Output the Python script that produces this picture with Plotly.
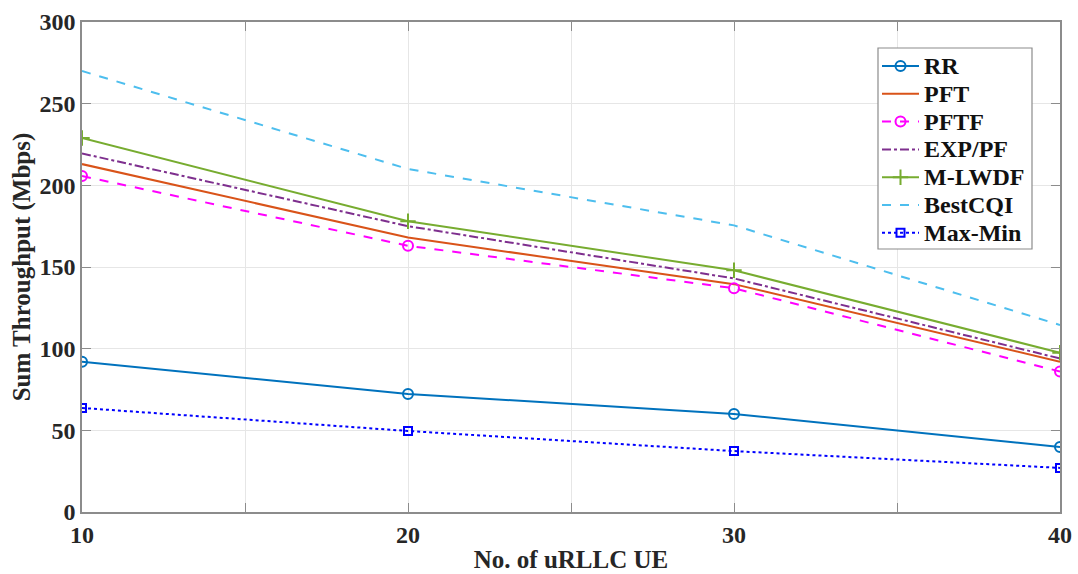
import plotly.graph_objects as go

ue_counts = [10, 20, 30, 40]

rr = [92, 72.3, 60, 39.8]
pft = [213, 168, 139.5, 92]
pftf = [205.7, 163, 137, 86]
exp_pf = [219.5, 175, 143, 94]
m_lwdf = [229, 178, 148, 97.5]
best_cqi = [270, 210, 175.5, 114.5]
max_min = [63.7, 49.6, 37.3, 27]

x_ticks = [10, 15, 20, 25, 30, 35, 40]
x_tick_text = ["10", "", "20", "", "30", "", "40"]
y_ticks = [0, 50, 100, 150, 200, 250, 300]

FONT = "Liberation Serif"
INK = "#262626"
AXIS_GRAY = "#8c8c8c"

series = [
    ("RR", rr, "#0072BD", "solid", "circle-open", 10),
    ("PFT", pft, "#D95319", "solid", None, 0),
    ("PFTF", pftf, "#FF00FF", "dash", "circle-open", 10),
    ("EXP/PF", exp_pf, "#7E2F8E", "dashdot", None, 0),
    ("M-LWDF", m_lwdf, "#77AC30", "solid", "cross-thin-open", 11),
    ("BestCQI", best_cqi, "#4DBEEE", "dash", None, 0),
    ("Max-Min", max_min, "#0000FF", "dot", "square-open", 8),
]

W, H = 1078, 574
M_L, M_R, M_T, M_B = 82, 18, 22, 62
PW, PH = W - M_L - M_R, H - M_T - M_B
X_RANGE = [10, 40]
Y_RANGE = [0, 300]

fig = go.Figure()
for name, vals, color, dash, symbol, size in series:
    kw = {}
    if symbol:
        kw["marker"] = dict(symbol=symbol, size=size, color=color,
                            line=dict(color=color, width=2))
    fig.add_trace(go.Scatter(
        x=ue_counts, y=vals, name=name,
        mode="lines+markers" if symbol else "lines",
        line=dict(color=color, width=2, dash=dash),
        showlegend=False, **kw))

# Legend drawn on an overlay axis whose units are pixels inside the plot area
box_x0, box_x1 = 878 - M_L, 1032 - M_L
box_top, box_bot = H - M_B - 48, H - M_B - 249
row_step = 27.8
first_row = H - M_B - 66
sample_x0, sample_x1 = 882 - M_L, 919 - M_L
text_x = 922 - M_L


def px_to_x(px):
    return X_RANGE[0] + px / PW * (X_RANGE[1] - X_RANGE[0])


def px_to_y(py):
    return Y_RANGE[0] + py / PH * (Y_RANGE[1] - Y_RANGE[0])


# white legend panel sits above the grid but below the curves
fig.add_shape(type="rect", xref="x", yref="y",
              x0=px_to_x(box_x0), x1=px_to_x(box_x1),
              y0=px_to_y(box_bot), y1=px_to_y(box_top),
              line=dict(color=AXIS_GRAY, width=1.2), fillcolor="white", layer="between")

for i, (name, vals, color, dash, symbol, size) in enumerate(series):
    yy = first_row - i * row_step
    fig.add_trace(go.Scatter(
        x=[sample_x0, sample_x1], y=[yy, yy], mode="lines",
        line=dict(color=color, width=2, dash=dash),
        xaxis="x2", yaxis="y2", showlegend=False, hoverinfo="skip"))
    if symbol:
        fig.add_trace(go.Scatter(
            x=[(sample_x0 + sample_x1) / 2], y=[yy], mode="markers",
            marker=dict(symbol=symbol, size=size, color=color,
                        line=dict(color=color, width=2)),
            xaxis="x2", yaxis="y2", showlegend=False, hoverinfo="skip"))
    fig.add_annotation(x=text_x, y=yy, xref="x2", yref="y2", text=f"<b>{name}</b>",
                       showarrow=False, xanchor="left", yanchor="middle",
                       font=dict(family=FONT, size=24, color="#111111"))

axis_common = dict(
    showline=True, linecolor=AXIS_GRAY, linewidth=1.5, mirror="ticks",
    ticks="inside", ticklen=9, tickcolor=AXIS_GRAY,
    showgrid=True, gridcolor="#e6e6e6", gridwidth=1, zeroline=False,
    automargin=False,
    tickfont=dict(family=FONT, size=24, color=INK),
)

fig.update_layout(
    width=W, height=H,
    margin=dict(l=M_L, r=M_R, t=M_T, b=M_B),
    paper_bgcolor="white", plot_bgcolor="white",
    font=dict(family=FONT, color=INK),
    showlegend=False,
    xaxis=dict(
        range=X_RANGE, tickvals=x_ticks,
        ticktext=[f"<b>{t}</b>" if t else "" for t in x_tick_text],
        title=dict(text="<b>No. of uRLLC UE</b>", font=dict(family=FONT, size=25, color=INK), standoff=4),
        **axis_common,
    ),
    yaxis=dict(
        range=Y_RANGE, tickvals=y_ticks,
        ticktext=[f"<b>{v}</b>" for v in y_ticks],
        title=dict(text="<b>Sum Throughput (Mbps)</b>", font=dict(family=FONT, size=25, color=INK), standoff=2),
        **axis_common,
    ),
    xaxis2=dict(overlaying="x", range=[0, PW], visible=False, showgrid=False,
                zeroline=False, fixedrange=True),
    yaxis2=dict(overlaying="y", range=[0, PH], visible=False, showgrid=False,
                zeroline=False, fixedrange=True),
)

fig.write_html("out.html")
